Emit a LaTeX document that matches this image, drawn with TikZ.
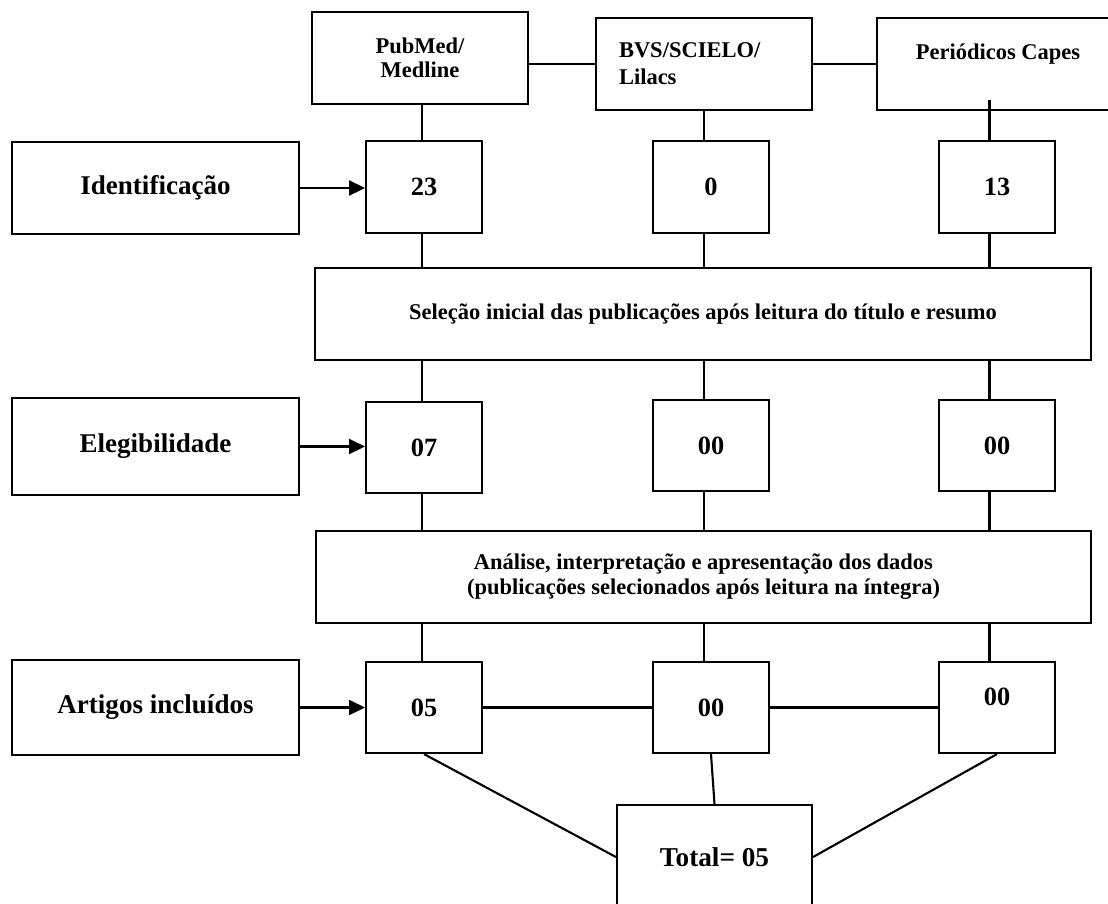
\documentclass[tikz,border=0pt]{standalone}
\usepackage{fontspec}
\setmainfont{Liberation Serif}
\usepackage{tikz}
\usetikzlibrary{arrows.meta,positioning,calc}

\begin{document}
\begin{tikzpicture}[
    box/.style={draw, line width=1.2pt, inner sep=2pt},
    base/.style={box, minimum width=4.32cm, minimum height=1.84cm, font=\fontsize{12.8}{13.6}\selectfont\bfseries, align=center},
    stage/.style={box, minimum width=5.74cm, minimum height=1.84cm, font=\fontsize{15.4}{18}\selectfont\bfseries},
    count/.style={box, minimum width=2.32cm, minimum height=1.84cm, font=\fontsize{15}{18}\selectfont\bfseries},
    phase/.style={box, minimum width=15.52cm, minimum height=1.84cm, font=\fontsize{12.8}{14.2}\selectfont\bfseries, align=center},
    link/.style={line width=1.2pt},
    feed/.style={line width=1.2pt, -{Triangle[length=9pt,width=8.5pt]}}
]

\useasboundingbox (0,0) rectangle (22.16,-18.06);
\clip (0,0) rectangle (22.16,-18.06);

% Column lines
\coordinate (colL) at (8.44,0);
\coordinate (colM) at (14.08,0);
\coordinate (colR) at (19.79,0);

% Databases
\node[base] (pubmed) at (8.40,-1.16) {PubMed/\\Medline};
\node[base, font=\fontsize{12.8}{15.3}\selectfont\bfseries, align=left, text width=3.40cm, inner xsep=0.46cm] (bvs) at (14.08,-1.28) {BVS/SCIELO/\\Lilacs};
\node[base, minimum width=4.84cm, text depth=0.5cm] (capes) at (19.96,-1.28) {Periódicos Capes};

\draw[link] (bvs.west -| pubmed.east) -- (bvs.west);
\draw[link] (bvs.east) -- (capes.west);

% Identificacao
\node[stage] (ident) at (3.11,-3.76) {Identificação};
\node[count] (id23) at (8.48,-3.74) {23};
\node[count] (id0) at (14.22,-3.74) {0};
\node[count] (id13) at (19.94,-3.74) {13};

\draw[feed] (ident.east) -- (ident.east -| id23.west);
\draw[link] (pubmed.south -| colL) -- (id23.north -| colL);
\draw[link] (bvs.south -| colM) -- (id0.north -| colM);
\draw[link] ([yshift=0.22cm]capes.south -| colR) -- (id13.north -| colR);

% Selecao
\node[phase] (sel) at (14.06,-6.28) {Seleção inicial das publicações após leitura do título e resumo};

\draw[link] (id23.south -| colL) -- (sel.north -| colL);
\draw[link] (id0.south -| colM) -- (sel.north -| colM);
\draw[link] (id13.south -| colR) -- (sel.north -| colR);

% Elegibilidade
\node[stage, minimum height=1.94cm] (eleg) at (3.11,-8.93) {Elegibilidade};
\node[count, minimum height=1.82cm] (el07) at (8.48,-8.95) {07};
\node[count, minimum height=1.82cm] (el00a) at (14.22,-8.91) {00};
\node[count, minimum height=1.82cm] (el00b) at (19.94,-8.91) {00};

\draw[feed] (eleg.east) -- (eleg.east -| el07.west);
\draw[link] (sel.south -| colL) -- (el07.north -| colL);
\draw[link] (sel.south -| colM) -- (el00a.north -| colM);
\draw[link] (sel.south -| colR) -- (el00b.north -| colR);

% Analise
\node[phase, minimum width=15.5cm] (anal) at (14.07,-11.54) {Análise, interpretação e apresentação dos dados\\(publicações selecionados  após leitura na íntegra)};

\draw[link] (el07.south -| colL) -- (anal.north -| colL);
\draw[link] (el00a.south -| colM) -- (anal.north -| colM);
\draw[link] (el00b.south -| colR) -- (anal.north -| colR);

% Artigos incluidos
\node[stage, minimum height=1.90cm] (art) at (3.11,-14.15) {Artigos incluídos};
\node[count, minimum height=1.82cm] (in05) at (8.48,-14.15) {05};
\node[count, minimum height=1.82cm] (in00a) at (14.22,-14.15) {00};
\node[count, minimum height=1.82cm, text depth=0.45cm] (in00b) at (19.94,-14.15) {00};

\draw[feed] (art.east) -- (art.east -| in05.west);
\draw[link] (anal.south -| colL) -- (in05.north -| colL);
\draw[link] (anal.south -| colM) -- (in00a.north -| colM);
\draw[link] (anal.south -| colR) -- (in00b.north -| colR);
\draw[link] (in05) -- (in00a);
\draw[link] (in00a) -- (in00b);

% Total
\node[box, minimum width=3.90cm, minimum height=2.08cm, font=\fontsize{15.5}{18}\selectfont\bfseries] (total) at (14.29,-17.14) {Total= 05};

\draw[link] (in05.south) -- (total.west);
\draw[link] (in00a.south) -- (total.north);
\draw[link] (in00b.south) -- (total.east);

\end{tikzpicture}
\end{document}
